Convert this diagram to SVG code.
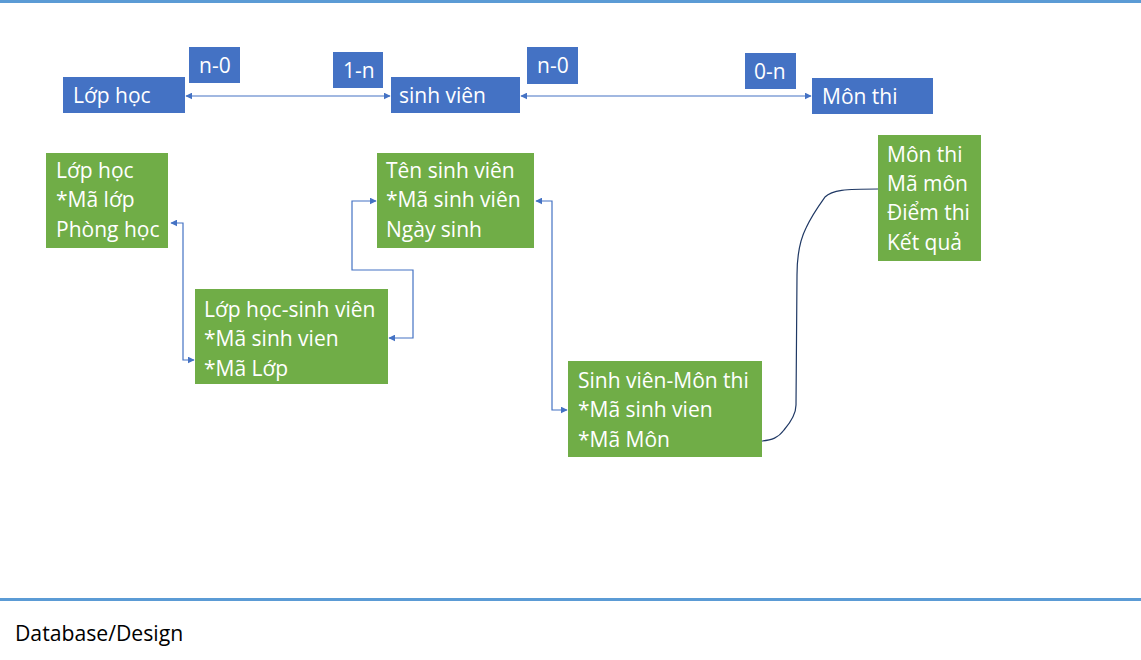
<svg xmlns="http://www.w3.org/2000/svg" width="1141" height="660" viewBox="0 0 1141 660">
  <defs>
    <marker id="ah" viewBox="0 0 10 10" refX="9" refY="5" markerWidth="7" markerHeight="7" markerUnits="userSpaceOnUse" orient="auto-start-reverse">
      <path d="M0,0 L10,5 L0,10 Z" fill="#4472C4"/>
    </marker>
  </defs>
  <style>
    .blue { fill: #4472C4; }
    .green { fill: #70AD47; }
    .t { font-family: "Open Sans", "Noto Sans", sans-serif; font-size: 21px; fill: #FFFFFF; }
    .conn { fill: none; stroke: #4472C4; stroke-width: 1.2; }
    .curve { fill: none; stroke: #1F3864; stroke-width: 1.2; }
    .rule { fill: #5B9BD5; }
    .foot { font-family: "Open Sans", "Noto Sans", sans-serif; font-size: 21.2px; fill: #000000; }
  </style>
  <rect width="1141" height="660" fill="#FFFFFF"/>
  <rect class="rule" x="0" y="0" width="1141" height="3"/>
  <rect class="rule" x="0" y="598" width="1141" height="3"/>

  <g id="connectors">
    <path class="conn" d="M186,96 H390" marker-start="url(#ah)" marker-end="url(#ah)"/>
    <path class="conn" d="M521,96 H811" marker-start="url(#ah)" marker-end="url(#ah)"/>
    <path class="conn" d="M171,223 H183 V360 H194" marker-start="url(#ah)" marker-end="url(#ah)"/>
    <path class="conn" d="M376,201 H352 V270 H413 V338 H389" marker-start="url(#ah)" marker-end="url(#ah)"/>
    <path class="conn" d="M536,201 H552 V410 H567" marker-start="url(#ah)" marker-end="url(#ah)"/>
    <path class="curve" d="M762,441 C772,440 778,438 784,430 C790,423 796,415 796,405 L797,275 C797,255 800,240 806,228 C812,215 820,204 825,197 C832,190 845,189 878,189"/>
  </g>

  <g id="lophoc-top">
    <rect class="blue" x="63" y="77" width="122" height="36"/>
    <text class="t" x="73" y="103">Lớp học</text>
  </g>
  <g id="label-n0-a">
    <rect class="blue" x="189" y="47" width="51" height="36"/>
    <text class="t" x="199" y="73">n-0</text>
  </g>
  <g id="label-1n">
    <rect class="blue" x="333" y="52" width="50" height="36"/>
    <text class="t" x="343" y="78">1-n</text>
  </g>
  <g id="sinhvien-top">
    <rect class="blue" x="391" y="77" width="129" height="36"/>
    <text class="t" x="399" y="103">sinh viên</text>
  </g>
  <g id="label-n0-b">
    <rect class="blue" x="527" y="47" width="51" height="37"/>
    <text class="t" x="537" y="73">n-0</text>
  </g>
  <g id="label-0n">
    <rect class="blue" x="745" y="53" width="51" height="36"/>
    <text class="t" x="754" y="79">0-n</text>
  </g>
  <g id="monthi-top">
    <rect class="blue" x="812" y="78" width="121" height="36"/>
    <text class="t" x="822" y="104">Môn thi</text>
  </g>

  <g id="lophoc-table">
    <rect class="green" x="46" y="153" width="122" height="95"/>
    <text class="t" x="56" y="178">Lớp học<tspan x="56" dy="29.3">*Mã lớp</tspan><tspan x="56" dy="29.3">Phòng học</tspan></text>
  </g>
  <g id="lophoc-sinhvien-table">
    <rect class="green" x="195" y="289" width="193" height="95"/>
    <text class="t" x="204" y="317">Lớp học-sinh viên<tspan x="204" dy="29.3">*Mã sinh vien</tspan><tspan x="204" dy="29.3">*Mã Lớp</tspan></text>
  </g>
  <g id="sinhvien-table">
    <rect class="green" x="377" y="153" width="157" height="95"/>
    <text class="t" x="386" y="178">Tên sinh viên<tspan x="386" dy="29.3">*Mã sinh viên</tspan><tspan x="386" dy="29.3">Ngày sinh</tspan></text>
  </g>
  <g id="sinhvien-monthi-table">
    <rect class="green" x="568" y="361" width="194" height="96"/>
    <text class="t" x="578" y="388">Sinh viên-Môn thi<tspan x="578" dy="29.3">*Mã sinh vien</tspan><tspan x="578" dy="29.3">*Mã Môn</tspan></text>
  </g>
  <g id="monthi-table">
    <rect class="green" x="878" y="135" width="103" height="126"/>
    <text class="t" x="887" y="162">Môn thi<tspan x="887" dy="29.2">Mã môn</tspan><tspan x="887" dy="29.2">Điểm thi</tspan><tspan x="887" dy="29.2">Kết quả</tspan></text>
  </g>

  <text class="foot" x="15" y="641">Database/Design</text>
</svg>
